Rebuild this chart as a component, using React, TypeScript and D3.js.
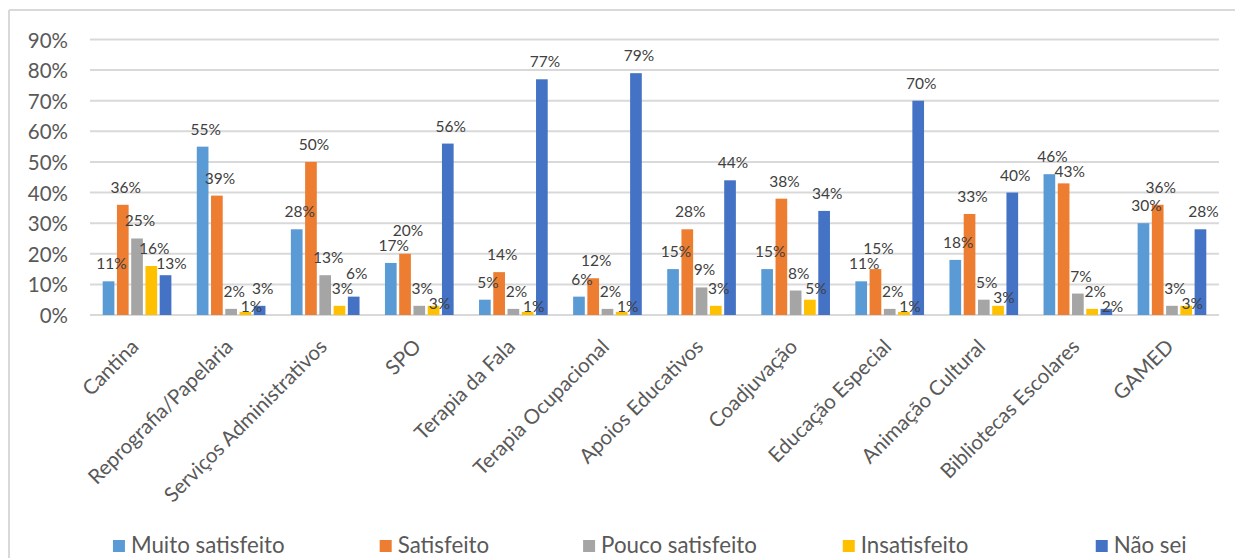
import React, { useEffect, useRef } from "react";
import * as d3 from "d3";

const categories = [
  "Cantina",
  "Reprografia/Papelaria",
  "Serviços Administrativos",
  "SPO",
  "Terapia da Fala",
  "Terapia Ocupacional",
  "Apoios Educativos",
  "Coadjuvação",
  "Educação Especial",
  "Animação Cultural",
  "Bibliotecas Escolares",
  "GAMED",
];

const seriesNames = ["Muito satisfeito", "Satisfeito", "Pouco satisfeito", "Insatisfeito", "Não sei"];

const muitoSatisfeito = [11, 55, 28, 17, 5, 6, 15, 15, 11, 18, 46, 30];
const satisfeito = [36, 39, 50, 20, 14, 12, 28, 38, 15, 33, 43, 36];
const poucoSatisfeito = [25, 2, 13, 3, 2, 2, 9, 8, 2, 5, 7, 3];
const insatisfeito = [16, 1, 3, 3, 1, 1, 3, 5, 1, 3, 2, 3];
const naoSei = [13, 3, 6, 56, 77, 79, 44, 34, 70, 40, 2, 28];

const yTicks = [0, 10, 20, 30, 40, 50, 60, 70, 80, 90];

const colors = ["#5B9BD5", "#ED7D31", "#A5A5A5", "#FFC000", "#4472C4"];

const W = 1235;
const H = 558;
const FONT = "Lato, 'Open Sans', sans-serif";

export default function App() {
  const ref = useRef<SVGSVGElement | null>(null);

  useEffect(() => {
    const svg = d3.select(ref.current);
    svg.selectAll("*").remove();

    const seriesValues = [muitoSatisfeito, satisfeito, poucoSatisfeito, insatisfeito, naoSei];

    // frame
    svg.append("line").attr("x1", 9).attr("x2", W).attr("y1", 10).attr("y2", 10)
      .attr("stroke", "#D9D9D9").attr("stroke-width", 2);
    svg.append("line").attr("x1", 9).attr("x2", 9).attr("y1", 10).attr("y2", H)
      .attr("stroke", "#D9D9D9").attr("stroke-width", 2);

    const x0 = d3.scaleBand<string>().domain(categories).range([90, 1219])
      .paddingInner(0.27).paddingOuter(0.135);
    const x1 = d3.scaleBand<string>().domain(seriesNames).range([0, x0.bandwidth()]).paddingInner(0.18);
    const y = d3.scaleLinear().domain([0, 90]).range([315, 39.5]);

    // gridlines
    svg.append("g").selectAll("line").data(yTicks).join("line")
      .attr("x1", 90).attr("x2", 1219)
      .attr("y1", (d) => y(d)).attr("y2", (d) => y(d))
      .attr("stroke", "#D9D9D9").attr("stroke-width", 2);

    // y tick labels
    svg.append("g").selectAll("text").data(yTicks).join("text")
      .attr("x", 68).attr("y", (d) => y(d))
      .attr("text-anchor", "end").attr("dominant-baseline", "central")
      .attr("font-family", FONT).attr("font-size", 20.5).attr("fill", "#595959")
      .text((d) => `${d}%`);

    // bars
    seriesNames.forEach((s, si) => {
      const vals = seriesValues[si];
      const g = svg.append("g");
      g.selectAll("rect").data(vals).join("rect")
        .attr("x", (d, i) => (x0(categories[i]) as number) + (x1(s) as number))
        .attr("width", x1.bandwidth())
        .attr("y", (d) => y(d))
        .attr("height", (d) => y(0) - y(d))
        .attr("fill", colors[si]);
    });

    // data labels with simple stagger when neighbouring labels collide
    const labelG = svg.append("g");
    categories.forEach((c, ci) => {
      let prev: { x: number; y: number; w: number } | null = null;
      seriesNames.forEach((s, si) => {
        const v = seriesValues[si][ci];
        const cx = (x0(c) as number) + (x1(s) as number) + x1.bandwidth() / 2 + 3;
        let cy = y(v) - 18;
        const t = labelG.append("text")
          .attr("text-anchor", "middle").attr("dominant-baseline", "central")
          .attr("font-family", FONT).attr("font-size", 15.5).attr("fill", "#404040")
          .text(`${v}%`);
        const w = (t.node() as SVGTextElement).getComputedTextLength();
        let x = cx;
        if (prev) {
          const xOverlap = Math.abs(prev.x - x) < (prev.w + w) / 2;
          const yOverlap = Math.abs(prev.y - cy) < 15;
          if (xOverlap && yOverlap) {
            if (cy >= prev.y - 4) {
              cy = prev.y + 15;
              x = cx + 3;
            } else {
              cy = prev.y - 15;
            }
          }
        }
        t.attr("x", x).attr("y", cy);
        prev = { x, y: cy, w };
      });
    });

    // category labels
    svg.append("g").selectAll("text").data(categories).join("text")
      .attr("transform", (d) => `translate(${(x0(d) as number) + x0.bandwidth() / 2 + 3},348) rotate(-45)`)
      .attr("text-anchor", "end")
      .attr("font-family", FONT).attr("font-size", 20.5).attr("fill", "#595959")
      .text((d) => d);

    // legend
    const lx = d3.scaleBand<string>().domain(seriesNames).range([81, 1259]);
    const legend = svg.append("g");
    seriesNames.forEach((s, si) => {
      const cx = (lx(s) as number) + lx.bandwidth() / 2;
      const item = legend.append("g");
      const t = item.append("text")
        .attr("x", 0).attr("y", 553)
        .attr("font-family", FONT).attr("font-size", 22.3).attr("fill", "#595959")
        .text(s);
      const tw = (t.node() as SVGTextElement).getComputedTextLength();
      const total = 12 + 6 + tw;
      const start = cx - total / 2;
      item.append("rect").attr("x", start).attr("y", 540).attr("width", 12).attr("height", 12)
        .attr("fill", colors[si]);
      t.attr("x", start + 18);
    });
  }, []);

  return (
    <svg
      ref={ref}
      width={W}
      height={H}
      style={{ position: "absolute", left: 0, top: 0, background: "#fff" }}
    />
  );
}
